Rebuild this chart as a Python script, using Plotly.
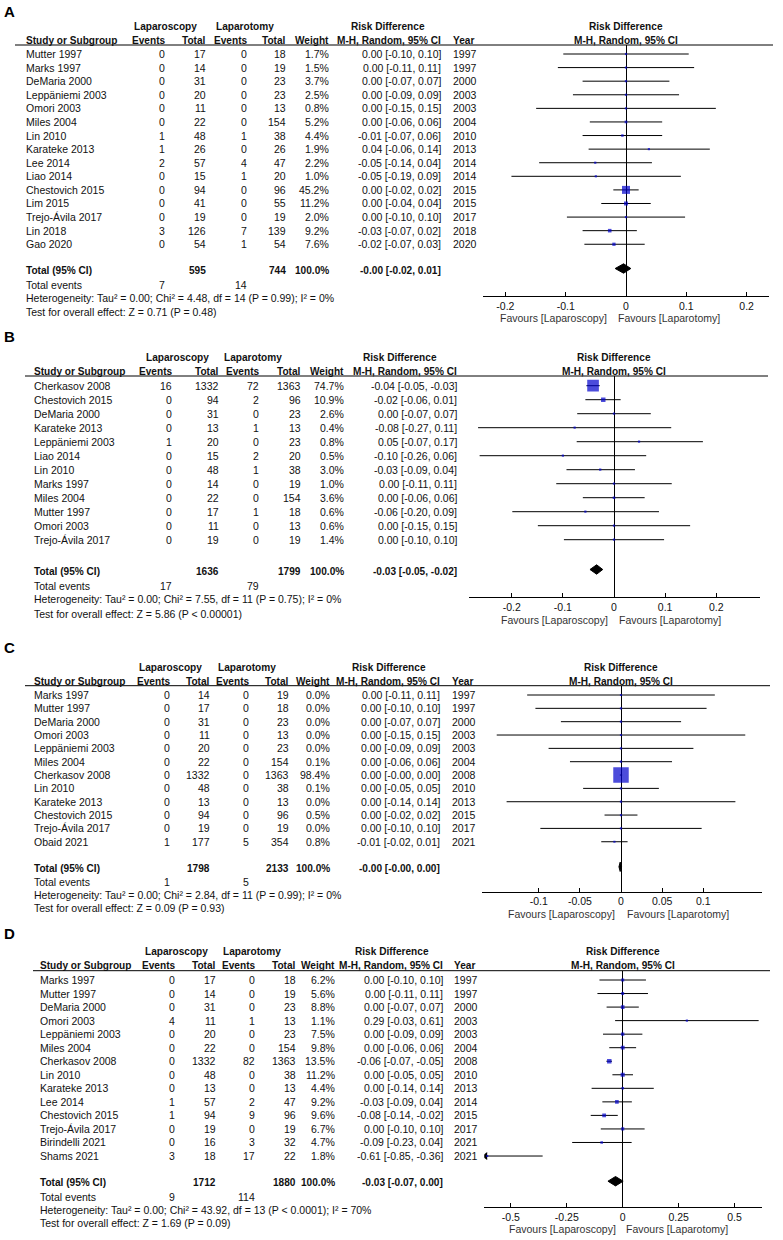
import math
import plotly.graph_objects as go

W, H = 783, 1240
FONT = "Liberation Sans, Arial, Helvetica, sans-serif"
FS = 10.5
FSB = 10.1
INK = "#111111"
GREY = "#333333"
BLUE = "#0000CC"

# ======================= DATA =======================
# ---- Panel A ----
studies_A = ["Mutter 1997", "Marks 1997", "DeMaria 2000", "Leppäniemi 2003", "Omori 2003",
             "Miles 2004", "Lin 2010", "Karateke 2013", "Lee 2014", "Liao 2014",
             "Chestovich 2015", "Lim 2015", "Trejo-Ávila 2017", "Lin 2018", "Gao 2020"]
lap_events_A = [0, 0, 0, 0, 0, 0, 1, 1, 2, 0, 0, 0, 0, 3, 0]
lap_total_A = [17, 14, 31, 20, 11, 22, 48, 26, 57, 15, 94, 41, 19, 126, 54]
lapt_events_A = [0, 0, 0, 0, 0, 0, 1, 0, 4, 1, 0, 0, 0, 7, 1]
lapt_total_A = [18, 19, 23, 23, 13, 154, 38, 26, 47, 20, 96, 55, 19, 139, 54]
weight_A = [1.7, 1.5, 3.7, 2.5, 0.8, 5.2, 4.4, 1.9, 2.2, 1.0, 45.2, 11.2, 2.0, 9.2, 7.6]
rd_A = [0.0, 0.0, 0.0, 0.0, 0.0, 0.0, -0.006, 0.038, -0.051, -0.050, 0.0, 0.0, 0.0, -0.027, -0.020]
ci_lo_A = [-0.104, -0.113, -0.072, -0.088, -0.149, -0.060, -0.072, -0.062, -0.144, -0.190,
           -0.021, -0.041, -0.098, -0.072, -0.069]
ci_hi_A = [0.104, 0.113, 0.072, 0.088, 0.149, 0.060, 0.060, 0.139, 0.043, 0.091,
           0.021, 0.041, 0.098, 0.018, 0.031]
year_A = [1997, 1997, 2000, 2003, 2003, 2004, 2010, 2013, 2014, 2014, 2015, 2015, 2017, 2018, 2020]
sum_total_A = [595, 744]
sum_events_A = [7, 14]
pooled_A = [-0.004, -0.018, 0.008]
het_A = "Heterogeneity: Tau² = 0.00; Chi² = 4.48, df = 14 (P = 0.99); I² = 0%"
test_A = "Test for overall effect: Z = 0.71 (P = 0.48)"
ticks_A = [-0.2, -0.1, 0, 0.1, 0.2]
ticklabels_A = ["-0.2", "-0.1", "0", "0.1", "0.2"]

# ---- Panel B ----
studies_B = ["Cherkasov 2008", "Chestovich 2015", "DeMaria 2000", "Karateke 2013", "Leppäniemi 2003",
             "Liao 2014", "Lin 2010", "Marks 1997", "Miles 2004", "Mutter 1997", "Omori 2003",
             "Trejo-Ávila 2017"]
lap_events_B = [16, 0, 0, 0, 1, 0, 0, 0, 0, 0, 0, 0]
lap_total_B = [1332, 94, 31, 13, 20, 15, 48, 14, 22, 17, 11, 19]
lapt_events_B = [72, 2, 0, 1, 0, 2, 1, 0, 0, 1, 0, 0]
lapt_total_B = [1363, 96, 23, 13, 23, 20, 38, 19, 154, 18, 13, 19]
weight_B = [74.7, 10.9, 2.6, 0.4, 0.8, 0.5, 3.0, 1.0, 3.6, 0.6, 0.6, 1.4]
rd_B = [-0.041, -0.021, 0.0, -0.077, 0.049, -0.100, -0.027, 0.0, 0.0, -0.056, 0.0, 0.0]
ci_lo_B = [-0.054, -0.056, -0.072, -0.266, -0.073, -0.263, -0.093, -0.113, -0.061, -0.199, -0.149, -0.098]
ci_hi_B = [-0.028, 0.013, 0.072, 0.112, 0.174, 0.063, 0.041, 0.113, 0.060, 0.088, 0.149, 0.098]
year_B = None
sum_total_B = [1636, 1799]
sum_events_B = [17, 79]
pooled_B = [-0.034, -0.047, -0.022]
het_B = "Heterogeneity: Tau² = 0.00; Chi² = 7.55, df = 11 (P = 0.75); I² = 0%"
test_B = "Test for overall effect: Z = 5.86 (P < 0.00001)"
ticks_B = [-0.2, -0.1, 0, 0.1, 0.2]
ticklabels_B = ["-0.2", "-0.1", "0", "0.1", "0.2"]

# ---- Panel C ----
studies_C = ["Marks 1997", "Mutter 1997", "DeMaria 2000", "Omori 2003", "Leppäniemi 2003",
             "Miles 2004", "Cherkasov 2008", "Lin 2010", "Karateke 2013", "Chestovich 2015",
             "Trejo-Ávila 2017", "Obaid 2021"]
lap_events_C = [0, 0, 0, 0, 0, 0, 0, 0, 0, 0, 0, 1]
lap_total_C = [14, 17, 31, 11, 20, 22, 1332, 48, 13, 94, 19, 177]
lapt_events_C = [0, 0, 0, 0, 0, 0, 0, 0, 0, 0, 0, 5]
lapt_total_C = [19, 18, 23, 13, 23, 154, 1363, 38, 13, 96, 19, 354]
weight_C = [0.0, 0.0, 0.0, 0.0, 0.0, 0.1, 98.4, 0.1, 0.0, 0.5, 0.0, 0.8]
rd_C = [0.0, 0.0, 0.0, 0.0, 0.0, 0.0, 0.0, 0.0, 0.0, 0.0, 0.0, -0.008]
ci_lo_C = [-0.114, -0.104, -0.073, -0.151, -0.088, -0.062, -0.0014, -0.046, -0.139, -0.020, -0.098, -0.024]
ci_hi_C = [0.114, 0.104, 0.073, 0.151, 0.088, 0.062, 0.0014, 0.046, 0.139, 0.020, 0.098, 0.008]
year_C = [1997, 1997, 2000, 2003, 2003, 2004, 2008, 2010, 2013, 2015, 2017, 2021]
sum_total_C = [1798, 2133]
sum_events_C = [1, 5]
pooled_C = [-0.001, -0.0025, 0.0007]
het_C = "Heterogeneity: Tau² = 0.00; Chi² = 2.84, df = 11 (P = 0.99); I² = 0%"
test_C = "Test for overall effect: Z = 0.09 (P = 0.93)"
ticks_C = [-0.1, -0.05, 0, 0.05, 0.1]
ticklabels_C = ["-0.1", "-0.05", "0", "0.05", "0.1"]

# ---- Panel D ----
studies_D = ["Marks 1997", "Mutter 1997", "DeMaria 2000", "Omori 2003", "Leppäniemi 2003",
             "Miles 2004", "Cherkasov 2008", "Lin 2010", "Karateke 2013", "Lee 2014",
             "Chestovich 2015", "Trejo-Ávila 2017", "Birindelli 2021", "Shams 2021"]
lap_events_D = [0, 0, 0, 4, 0, 0, 0, 0, 0, 1, 1, 0, 0, 3]
lap_total_D = [17, 14, 31, 11, 20, 22, 1332, 48, 13, 57, 94, 19, 16, 18]
lapt_events_D = [0, 0, 0, 1, 0, 0, 82, 0, 0, 2, 9, 0, 3, 17]
lapt_total_D = [18, 19, 23, 13, 23, 154, 1363, 38, 13, 47, 96, 19, 32, 22]
weight_D = [6.2, 5.6, 8.8, 1.1, 7.5, 9.8, 13.5, 11.2, 4.4, 9.2, 9.6, 6.7, 4.7, 1.8]
rd_D = [0.0, 0.0, 0.0, 0.287, 0.0, 0.0, -0.060, 0.0, 0.0, -0.026, -0.083, 0.0, -0.094, -0.606]
ci_lo_D = [-0.104, -0.113, -0.072, -0.034, -0.088, -0.060, -0.073, -0.046, -0.139, -0.091,
           -0.143, -0.098, -0.226, -0.853]
ci_hi_D = [0.104, 0.113, 0.072, 0.608, 0.088, 0.060, -0.048, 0.046, 0.139, 0.041,
           -0.022, 0.098, 0.040, -0.358]
year_D = [1997, 1997, 2000, 2003, 2003, 2004, 2008, 2010, 2013, 2014, 2015, 2017, 2021, 2021]
sum_total_D = [1712, 1880]
sum_events_D = [9, 114]
pooled_D = [-0.032, -0.066, 0.002]
het_D = "Heterogeneity: Tau² = 0.00; Chi² = 43.92, df = 13 (P < 0.0001); I² = 70%"
test_D = "Test for overall effect: Z = 1.69 (P = 0.09)"
ticks_D = [-0.5, -0.25, 0, 0.25, 0.5]
ticklabels_D = ["-0.5", "-0.25", "0", "0.25", "0.5"]

# ======================= LAYOUT GEOMETRY (pixels) =======================
geo_A = dict(label_y=12, h1=26.7, h2=40.7, line_y=45, lx0=15, lx1=773, row0=54, dy=13.59,
             tot_y=270, ev_y=284.5, het_y=297.7, test_y=311.5, name_x=25,
             c_lev=166, c_ltot=207, c_tev=248, c_ttot=287, c_w=330, c_ci=442, c_year=452,
             h_lap=133, h_lapt=215, h_rd=388, x0=483, x1=769, axis_y=296, zero=626, px01=60.3,
             fav_y=318, fav_l=608, fav_r=617, k=1.19)
geo_B = dict(label_y=337, h1=357.7, h2=371.7, line_y=376, lx0=25, lx1=768, row0=385.7, dy=14.0,
             tot_y=571, ev_y=585.5, het_y=599.5, test_y=613.5, name_x=33,
             c_lev=173, c_ltot=220, c_tev=260, c_ttot=302, c_w=345, c_ci=458, c_year=None,
             h_lap=145, h_lapt=223, h_rd=400, x0=469.3, x1=760, axis_y=597.3, zero=614, px01=51.1,
             fav_y=620, fav_l=609, fav_r=618, k=1.35)
geo_C = dict(label_y=647, h1=667.5, h2=681.5, line_y=685.7, lx0=25, lx1=770, row0=695, dy=13.34,
             tot_y=868.3, ev_y=881.7, het_y=895, test_y=908.3, name_x=33,
             c_lev=171, c_ltot=211, c_tev=250, c_ttot=290, c_w=331, c_ci=441, c_year=450.7,
             h_lap=138, h_lapt=217, h_rd=389, x0=481.7, x1=761.7, axis_y=891.7, zero=621, px01=82.3,
             fav_y=914, fav_l=616, fav_r=625.7, k=1.56)
geo_D = dict(label_y=933, h1=951.7, h2=965.7, line_y=970.7, lx0=33, lx1=770, row0=980, dy=13.54,
             tot_y=1182.7, ev_y=1196.7, het_y=1210, test_y=1223.3, name_x=39.3,
             c_lev=176, c_ltot=216.7, c_tev=256, c_ttot=296.7, c_w=335.7, c_ci=444, c_year=453.3,
             h_lap=144, h_lapt=222, h_rd=392, x0=484.3, x1=761.7, axis_y=1207.3, zero=622.7, px01=22.36,
             fav_y=1229, fav_l=616.7, fav_r=625, k=1.22)

panels = [
    ("A", studies_A, lap_events_A, lap_total_A, lapt_events_A, lapt_total_A, weight_A, rd_A,
     ci_lo_A, ci_hi_A, year_A, sum_total_A, sum_events_A, pooled_A, het_A, test_A, ticks_A, ticklabels_A, geo_A),
    ("B", studies_B, lap_events_B, lap_total_B, lapt_events_B, lapt_total_B, weight_B, rd_B,
     ci_lo_B, ci_hi_B, year_B, sum_total_B, sum_events_B, pooled_B, het_B, test_B, ticks_B, ticklabels_B, geo_B),
    ("C", studies_C, lap_events_C, lap_total_C, lapt_events_C, lapt_total_C, weight_C, rd_C,
     ci_lo_C, ci_hi_C, year_C, sum_total_C, sum_events_C, pooled_C, het_C, test_C, ticks_C, ticklabels_C, geo_C),
    ("D", studies_D, lap_events_D, lap_total_D, lapt_events_D, lapt_total_D, weight_D, rd_D,
     ci_lo_D, ci_hi_D, year_D, sum_total_D, sum_events_D, pooled_D, het_D, test_D, ticks_D, ticklabels_D, geo_D),
]

fig = go.Figure()
annotations = []
shapes = []


def txt(x, y, s, anchor="left", bold=False, size=None, color=INK):
    if size is None:
        size = FSB if bold else FS
    annotations.append(dict(
        x=x / W, y=1 - y / H, xref="paper", yref="paper",
        text=f"<b>{s}</b>" if bold else s, showarrow=False,
        xanchor=anchor, yanchor="middle", borderpad=0,
        font=dict(family=FONT, size=size, color=color)))


def ci_text(e, lo, hi):
    return f"{e:.2f} [{lo:.2f}, {hi:.2f}]"


for pi, (lab, studies, lev, ltot, tev, ttot, wts, rd, lo, hi, years, sums, sev, pooled,
         het, test, ticks, ticklabels, g) in enumerate(panels):
    n = "" if pi == 0 else str(pi + 1)
    xa, ya = "x" + n, "y" + n

    # ----- table text -----
    txt(3, g["label_y"], lab, bold=True, size=15, color="#000")
    txt(g["h_lap"], g["h1"], "Laparoscopy", bold=True)
    txt(g["h_lapt"], g["h1"], "Laparotomy", bold=True)
    txt(g["h_rd"], g["h1"], "Risk Difference", anchor="center", bold=True)
    txt(g["zero"], g["h1"], "Risk Difference", anchor="center", bold=True)
    txt(g["name_x"], g["h2"], "Study or Subgroup", bold=True)
    txt(g["c_lev"], g["h2"], "Events", anchor="right", bold=True)
    txt(g["c_ltot"], g["h2"], "Total", anchor="right", bold=True)
    txt(g["c_tev"], g["h2"], "Events", anchor="right", bold=True)
    txt(g["c_ttot"], g["h2"], "Total", anchor="right", bold=True)
    txt(g["c_w"], g["h2"], "Weight", anchor="right", bold=True)
    txt(g["c_ci"], g["h2"], "M-H, Random, 95% CI", anchor="right", bold=True)
    if years is not None:
        txt(g["c_year"], g["h2"], "Year", bold=True)
    txt(g["zero"], g["h2"], "M-H, Random, 95% CI", anchor="center", bold=True)
    shapes.append(dict(type="line", xref="paper", yref="paper",
                       x0=g["lx0"] / W, x1=g["lx1"] / W,
                       y0=1 - g["line_y"] / H, y1=1 - g["line_y"] / H,
                       line=dict(color="#000", width=1)))

    for i, s in enumerate(studies):
        y = g["row0"] + i * g["dy"]
        txt(g["name_x"], y, s)
        txt(g["c_lev"], y, str(lev[i]), anchor="right")
        txt(g["c_ltot"], y, str(ltot[i]), anchor="right")
        txt(g["c_tev"], y, str(tev[i]), anchor="right")
        txt(g["c_ttot"], y, str(ttot[i]), anchor="right")
        txt(g["c_w"], y, f"{wts[i]:.1f}%", anchor="right")
        txt(g["c_ci"], y, ci_text(rd[i], lo[i], hi[i]), anchor="right")
        if years is not None:
            txt(g["c_year"], y, str(years[i]))

    txt(g["name_x"], g["tot_y"], "Total (95% CI)", bold=True)
    txt(g["c_ltot"], g["tot_y"], str(sums[0]), anchor="right", bold=True)
    txt(g["c_ttot"], g["tot_y"], str(sums[1]), anchor="right", bold=True)
    txt(g["c_w"], g["tot_y"], "100.0%", anchor="right", bold=True)
    txt(g["c_ci"], g["tot_y"], ci_text(*pooled), anchor="right", bold=True)
    txt(g["name_x"], g["ev_y"], "Total events")
    txt(g["c_lev"], g["ev_y"], str(sev[0]), anchor="right")
    txt(g["c_tev"], g["ev_y"], str(sev[1]), anchor="right")
    txt(g["name_x"], g["het_y"], het)
    txt(g["name_x"], g["test_y"], test)
    txt(g["fav_l"], g["fav_y"], "Favours [Laparoscopy]", anchor="right", color=GREY)
    txt(g["fav_r"], g["fav_y"], "Favours [Laparotomy]", anchor="left", color=GREY)

    # ----- forest plot -----
    xr = [(g["x0"] - g["zero"]) / g["px01"] * 0.1, (g["x1"] - g["zero"]) / g["px01"] * 0.1]
    yr = [(g["axis_y"] - g["row0"]) / g["dy"], (g["line_y"] - g["row0"]) / g["dy"]]

    lx, ly = [], []
    for i in range(len(studies)):
        lx += [max(lo[i], xr[0]), min(hi[i], xr[1]), None]
        ly += [i, i, None]
    fig.add_trace(go.Scatter(x=lx, y=ly, mode="lines", line=dict(color="#000", width=1),
                             xaxis=xa, yaxis=ya, hoverinfo="skip", showlegend=False))

    # arrows for CIs running off the axis
    ax_, ay_ = [], []
    for i in range(len(studies)):
        if lo[i] < xr[0]:
            ax_.append(xr[0] + 0.004 * (xr[1] - xr[0]))
            ay_.append(i)
    if ax_:
        fig.add_trace(go.Scatter(x=ax_, y=ay_, mode="markers",
                                 marker=dict(symbol="triangle-left", size=7, color="#000"),
                                 xaxis=xa, yaxis=ya, hoverinfo="skip", showlegend=False))

    sizes = [max(2.2, g["k"] * math.sqrt(w)) for w in wts]
    fig.add_trace(go.Scatter(x=rd, y=list(range(len(studies))), mode="markers",
                             marker=dict(symbol="square", size=sizes, color=BLUE,
                                         line=dict(width=0)),
                             xaxis=xa, yaxis=ya, hoverinfo="skip", showlegend=False))

    ty = (g["tot_y"] - 1.5 - g["row0"]) / g["dy"]
    hh = 4.7 / g["dy"]
    e, l, h = pooled
    fig.add_trace(go.Scatter(x=[l, e, h, e, l], y=[ty, ty - hh, ty, ty + hh, ty],
                             mode="lines", fill="toself", fillcolor="#000",
                             line=dict(color="#000", width=1),
                             xaxis=xa, yaxis=ya, hoverinfo="skip", showlegend=False))

    fig.layout["xaxis" + n] = dict(
        domain=[g["x0"] / W, g["x1"] / W], range=xr, anchor=ya,
        showline=True, linecolor="#000", linewidth=1, mirror=False,
        ticks="inside", ticklen=4, tickcolor="#000", tickwidth=1,
        tickvals=ticks, ticktext=ticklabels,
        tickfont=dict(family=FONT, size=FS, color=INK),
        showgrid=False, zeroline=True, zerolinecolor="#000", zerolinewidth=1,
        fixedrange=True)
    fig.layout["yaxis" + n] = dict(
        domain=[1 - g["axis_y"] / H, 1 - g["line_y"] / H], range=yr, anchor=xa,
        visible=False, showgrid=False, zeroline=False, fixedrange=True)

fig.update_layout(
    width=W, height=H, autosize=False,
    margin=dict(l=0, r=0, t=0, b=0),
    paper_bgcolor="white", plot_bgcolor="rgba(0,0,0,0)",
    annotations=annotations, shapes=shapes,
    font=dict(family=FONT, size=FS, color=INK),
    showlegend=False,
)

fig.write_html("out.html", config={"displayModeBar": False},
               post_script="document.body.style.margin='0';document.body.style.overflow='hidden';")
